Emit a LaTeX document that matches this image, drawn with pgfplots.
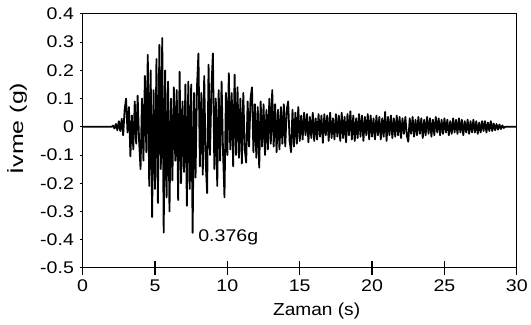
\documentclass[border=0pt]{standalone}
\usepackage{pgfplots}
\pgfplotsset{compat=1.18}
\usepackage{fontspec}
\setmainfont{Liberation Sans}
\newfontfamily\tickfont{Liberation Sans}[FakeStretch=1.16]
\newfontfamily\xlabfont{Liberation Sans}[FakeStretch=1.10]
\newfontfamily\ylabfont{Liberation Sans}[FakeStretch=1.36]
\begin{document}
\begin{tikzpicture}
\begin{axis}[
  at={(0,0)}, anchor=south west,
  scale only axis, width=436bp, height=255bp,
  xmin=0, xmax=30, ymin=-0.5, ymax=0.4,
  axis line style={line width=1.1bp},
  xtick={0,5,10,15,20,25,30},
  xticklabels={0,5,10,15,20,25,30},
  ytick={-0.5,-0.4,-0.3,-0.2,-0.1,0,0.1,0.2,0.3,0.4},
  yticklabels={-0.5,-0.4,-0.3,-0.2,-0.1,0,0.1,0.2,0.3,0.4},
  xtick pos=bottom, ytick pos=left,
  xtick align=center, ytick align=outside,
  xtick style={line width=1.2bp, /pgfplots/major tick length=14bp, black},
  ytick style={line width=1.0bp, /pgfplots/major tick length=3bp, black},
  ticklabel style={font=\tickfont\fontsize{17}{18}\selectfont},
  xticklabel style={yshift=-6bp},
  yticklabel style={xshift=-1bp},
  xlabel={Zaman (s)},
  ylabel={İvme (g)},
  xlabel style={font=\xlabfont\fontsize{17.5}{19}\selectfont, at={(axis description cs:0.539,-0.168)}, anchor=center},
  ylabel style={font=\ylabfont\fontsize{18.5}{21}\selectfont, at={(axis description cs:-0.151,0.549)}, anchor=center},
  clip=false,
]
\addplot[black, line width=1.8bp, line join=round] coordinates {
(0,0) (2.0,0) (2.1,0.004) (2.2,-0.006) (2.3,0.010) (2.4,-0.012) (2.5,0.020) (2.6,-0.015) (2.7,0.028) (2.8,-0.030) (2.9,0.06)
(3.0,0.10) (3.1,-0.02) (3.2,0.07) (3.3,-0.105) (3.4,0.04) (3.5,-0.08) (3.6,0.09) (3.7,-0.06) (3.8,0.11) (3.9,-0.05)
(4.0,-0.15) (4.1,0.10) (4.2,-0.12) (4.3,0.18) (4.4,-0.09) (4.5,0.255) (4.6,-0.21) (4.7,0.20) (4.8,-0.32) (4.9,0.13)
(5.0,-0.22) (5.1,0.24) (5.2,-0.27) (5.3,0.29) (5.4,-0.15) (5.5,0.315) (5.6,-0.375) (5.7,0.20) (5.8,-0.25) (5.9,0.16)
(6.0,-0.30) (6.1,0.10) (6.2,-0.19) (6.3,0.14) (6.4,-0.12) (6.5,0.13) (6.6,-0.26) (6.7,0.195) (6.8,-0.20) (6.9,0.09)
(7.0,-0.16) (7.1,0.15) (7.2,-0.28) (7.3,0.16) (7.4,-0.22) (7.5,0.15) (7.6,-0.376) (7.7,0.12) (7.8,-0.18) (7.9,0.14)
(8.0,0.26) (8.1,-0.14) (8.2,0.12) (8.3,-0.17) (8.4,0.18) (8.5,-0.12) (8.6,-0.235) (8.7,0.22) (8.8,-0.10) (8.9,0.14)
(9.0,0.26) (9.1,-0.15) (9.2,0.10) (9.3,-0.21) (9.4,0.13) (9.5,-0.12) (9.6,0.16) (9.7,-0.09) (9.8,-0.25) (9.9,0.12)
(10.0,-0.10) (10.1,0.19) (10.2,-0.08) (10.3,0.12) (10.4,-0.14) (10.5,0.185) (10.6,-0.10) (10.7,0.14) (10.8,-0.11) (10.9,0.10)
(11.0,-0.13) (11.1,0.12) (11.2,-0.08) (11.3,-0.127) (11.4,0.09) (11.5,-0.07) (11.6,0.10) (11.7,0.14) (11.8,-0.09) (11.9,0.08)
(12.0,-0.11) (12.1,0.07) (12.2,-0.145) (12.3,0.09) (12.4,-0.07) (12.5,0.08) (12.6,-0.10) (12.7,0.06) (12.8,-0.08) (12.9,0.10)
(13.0,-0.06) (13.1,0.13) (13.2,-0.07) (13.3,0.08) (13.4,-0.09) (13.5,0.06) (13.6,-0.08) (13.7,0.07) (13.8,-0.06) (13.9,0.08)
(14.0,-0.07) (14.1,0.06) (14.2,0.09) (14.3,-0.05) (14.4,-0.09) (14.5,0.06) (14.6,-0.07) (14.7,0.05) (14.8,-0.06) (14.9,0.07)
(15.0,-0.05) (15.1,0.04) (15.2,-0.045) (15.3,0.05) (15.4,-0.03) (15.5,0.045) (15.6,-0.055) (15.7,0.035) (15.8,-0.04) (15.9,0.05)
(16.0,-0.05) (16.1,0.03) (16.2,-0.045) (16.3,0.045) (16.4,-0.035) (16.5,0.04) (16.6,-0.057) (16.7,0.045) (16.8,-0.03) (16.9,0.04)
(17.0,-0.05) (17.1,0.05) (17.2,-0.04) (17.3,0.03) (17.4,-0.045) (17.5,0.045) (17.6,-0.035) (17.7,0.04) (17.8,-0.05) (17.9,0.05)
(18.0,-0.04) (18.1,0.035) (18.2,-0.055) (18.3,0.045) (18.4,-0.03) (18.5,0.055) (18.6,-0.045) (18.7,0.04) (18.8,-0.05) (18.9,0.03)
(19.0,-0.04) (19.1,0.045) (19.2,-0.035) (19.3,0.04) (19.4,-0.05) (19.5,0.035) (19.6,-0.03) (19.7,0.045) (19.8,-0.045) (19.9,0.04)
(20.0,-0.035) (20.1,0.03) (20.2,-0.045) (20.3,0.04) (20.4,-0.03) (20.5,0.035) (20.6,-0.045) (20.7,0.03) (20.8,-0.035) (20.9,0.053)
(21.0,-0.05) (21.1,0.035) (21.2,-0.03) (21.3,0.04) (21.4,-0.04) (21.5,0.03) (21.6,-0.035) (21.7,0.04) (21.8,-0.03) (21.9,0.035)
(22.0,-0.04) (22.1,0.03) (22.2,-0.025) (22.3,0.035) (22.4,-0.03) (22.5,-0.053) (22.6,0.03) (22.7,-0.025) (22.8,0.035) (22.9,-0.035)
(23.0,0.025) (23.1,-0.03) (23.2,0.035) (23.3,-0.025) (23.4,0.03) (23.5,-0.04) (23.6,0.025) (23.7,-0.03) (23.8,0.035) (23.9,-0.025)
(24.0,0.03) (24.1,-0.035) (24.2,0.025) (24.3,-0.03) (24.4,0.035) (24.5,-0.02) (24.6,0.03) (24.7,-0.03) (24.8,0.025) (24.9,-0.025)
(25.0,0.03) (25.1,-0.02) (25.2,0.025) (25.3,-0.03) (25.4,0.02) (25.5,-0.025) (25.6,0.03) (25.7,-0.02) (25.8,0.025) (25.9,-0.025)
(26.0,0.03) (26.1,-0.02) (26.2,0.025) (26.3,-0.03) (26.4,0.02) (26.5,-0.02) (26.6,0.025) (26.7,-0.025) (26.8,0.02) (26.9,-0.02)
(27.0,0.025) (27.1,-0.02) (27.2,0.02) (27.3,-0.025) (27.4,0.015) (27.5,-0.02) (27.6,0.02) (27.7,-0.015) (27.8,0.02) (27.9,-0.02)
(28.0,0.015) (28.1,-0.015) (28.2,0.02) (28.3,-0.015) (28.4,0.012) (28.5,-0.012) (28.6,0.01) (28.7,-0.01) (28.8,0.008) (28.9,-0.008)
(29.0,0.005) (29.1,-0.004) (29.2,0) (30,0)
};
\node[anchor=base west, inner sep=0pt, font=\tickfont\fontsize{17}{18}\selectfont] at (axis cs:7.98,-0.406) {0.376g};
\end{axis}
\path[use as bounding box] (-83bp,-57bp) rectangle (448bp,269bp);
\end{tikzpicture}
\end{document}
